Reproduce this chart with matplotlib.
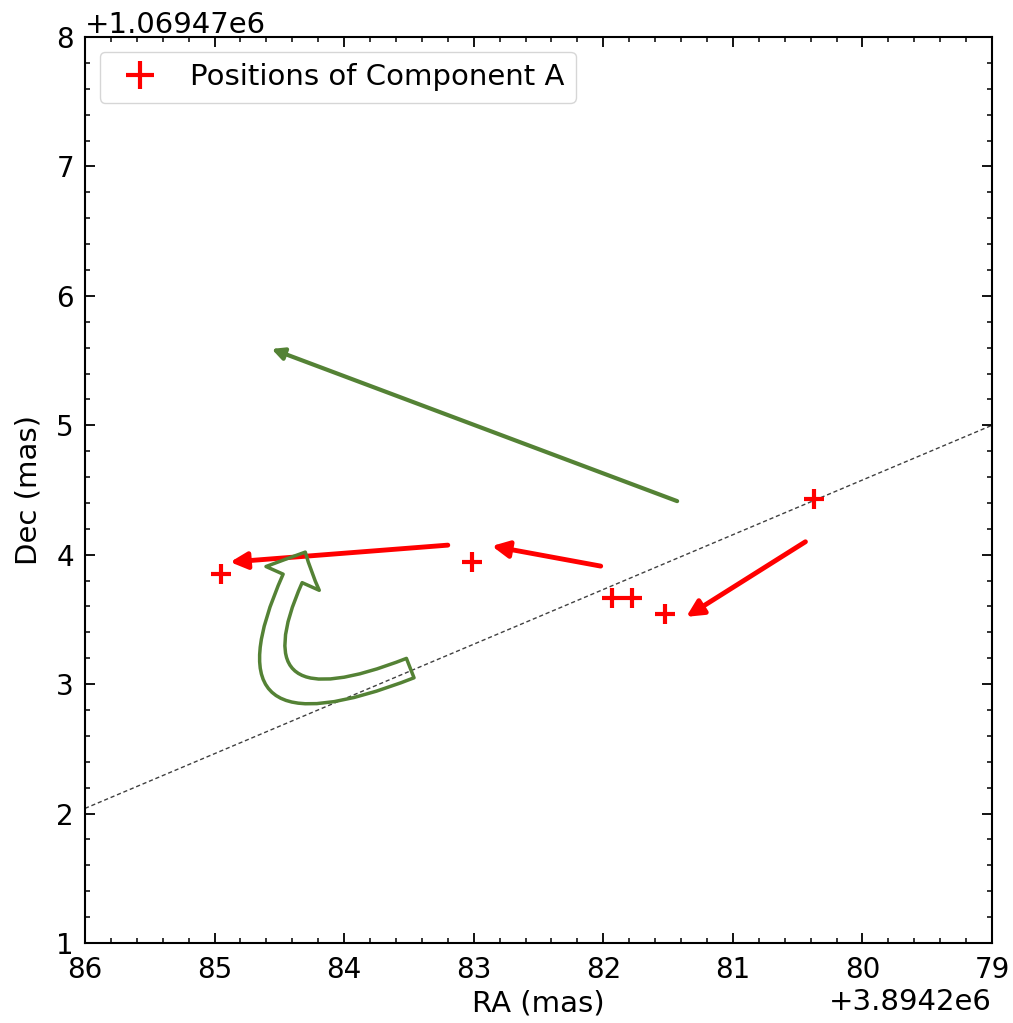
import matplotlib
matplotlib.use("Agg")
import matplotlib.pyplot as plt
from matplotlib.patches import FancyArrowPatch
from matplotlib.ticker import MultipleLocator
import numpy as np

# ---- data (offsets as shown on axes) ----
RA_OFFSET = 3.8942e6
DEC_OFFSET = 1.06947e6

ra_rel = [84.95, 83.01, 81.93, 81.78, 81.52, 80.37]
dec_rel = [3.85, 3.94, 3.665, 3.665, 3.54, 4.43]

# fitted dashed line endpoints (RA, Dec)
line_ra = [86.0, 79.0]
line_dec = [2.04, 5.0]

# red motion arrows: (start_ra, start_dec, end_ra, end_dec)
red_arrows = [
    (83.20, 4.074, 84.88, 3.943),
    (82.02, 3.912, 82.86, 4.067),
    (80.44, 4.10, 81.36, 3.52),
]
# green arrow
green_arrow = (81.43, 4.414, 84.56, 5.59)
# curved hollow arrow: tail -> tip
curved_arrow = (83.49, 3.124, 84.30, 4.02)

xlim = [86, 79]
ylim = [1, 8]

GREEN = "#548235"

plt.rcParams['font.family'] = ['DejaVu Sans']
fig = plt.figure(figsize=(10.13, 10.23), dpi=100)
ax = fig.add_axes([85/1013, 1 - 943/1023, (992-85)/1013, (943-37)/1023])

ra = [RA_OFFSET + v for v in ra_rel]
dec = [DEC_OFFSET + v for v in dec_rel]

ax.plot([RA_OFFSET + v for v in line_ra], [DEC_OFFSET + v for v in line_dec],
        linestyle='--', color='k', lw=1.0, alpha=0.75, dashes=(3, 2))
ax.plot(ra, dec, linestyle='none', marker='+', color='red', ms=14, mew=3,
        label='Positions of Component A', zorder=5)

for (x0, y0, x1, y1) in red_arrows:
    ax.annotate('', xy=(RA_OFFSET + x1, DEC_OFFSET + y1),
                xytext=(RA_OFFSET + x0, DEC_OFFSET + y0),
                arrowprops=dict(arrowstyle='-|>', color='red', lw=3.5,
                                mutation_scale=25, shrinkA=0, shrinkB=0))

x0, y0, x1, y1 = green_arrow
ax.annotate('', xy=(RA_OFFSET + x1, DEC_OFFSET + y1),
            xytext=(RA_OFFSET + x0, DEC_OFFSET + y0),
            arrowprops=dict(arrowstyle='-|>', color=GREEN, lw=3,
                            mutation_scale=18, shrinkA=0, shrinkB=0))

x0, y0, x1, y1 = curved_arrow
cp = FancyArrowPatch((RA_OFFSET + x0, DEC_OFFSET + y0),
                     (RA_OFFSET + x1, DEC_OFFSET + y1),
                     connectionstyle='arc3,rad=-1.32',
                     arrowstyle='simple,head_length=21,head_width=42,tail_width=15',
                     mutation_scale=1, shrinkA=0, shrinkB=0,
                     facecolor='none', edgecolor=GREEN, lw=2.5, zorder=6)
ax.add_patch(cp)

ax.set_xlim(RA_OFFSET + xlim[0], RA_OFFSET + xlim[1])
ax.set_ylim(DEC_OFFSET + ylim[0], DEC_OFFSET + ylim[1])

ax.xaxis.set_major_locator(MultipleLocator(1))
ax.xaxis.set_minor_locator(MultipleLocator(0.2))
ax.yaxis.set_major_locator(MultipleLocator(1))
ax.yaxis.set_minor_locator(MultipleLocator(0.2))
ax.tick_params(which='both', direction='in', top=True, right=True, labelsize=20)
ax.tick_params(axis='x', which='major', pad=9)
ax.tick_params(axis='y', which='major', pad=8)
ax.tick_params(which='major', length=7, width=1.3)
ax.tick_params(which='minor', length=3.5, width=1.1)
for s in ax.spines.values():
    s.set_linewidth(1.5)
ax.xaxis.get_offset_text().set_fontsize(21)
ax.yaxis.get_offset_text().set_fontsize(21)

ax.set_xlabel('RA (mas)', fontsize=21, labelpad=4)
ax.set_ylabel('Dec (mas)', fontsize=21, labelpad=10)

ax.legend(loc='upper left', fontsize=21, markerscale=1.4, handletextpad=0.7,
          handlelength=2.0)

fig.savefig('out.png', dpi=100)
